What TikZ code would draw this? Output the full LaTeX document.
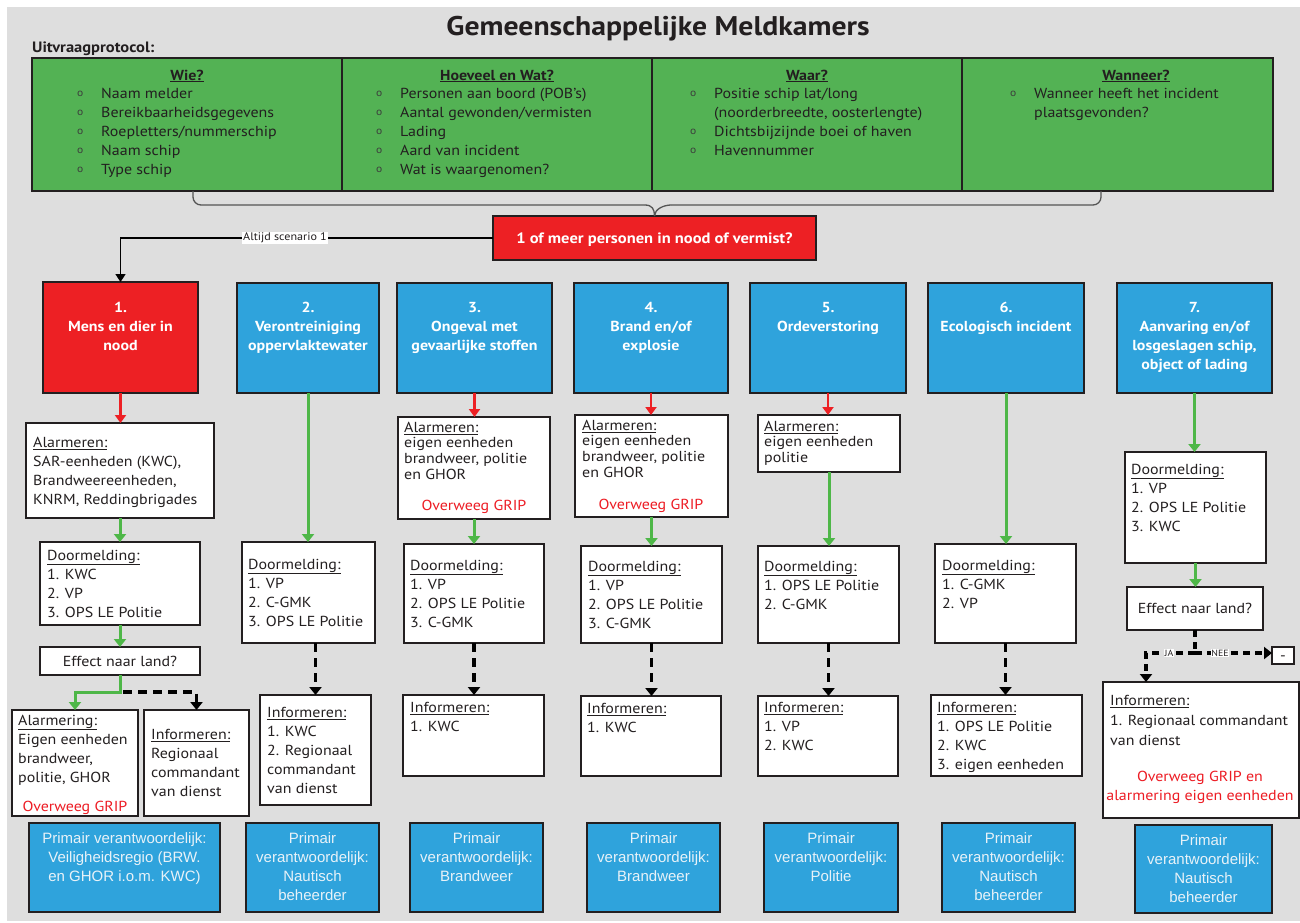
\documentclass[tikz,border=0pt]{standalone}
\usepackage{fontspec}
\setmainfont{PT Sans}[FakeStretch=1.1]
\newfontfamily\arialf{Liberation Sans}
\usetikzlibrary{arrows.meta,fit,calc}

\definecolor{bgc}{RGB}{222,222,222}
\definecolor{tblgreen}{RGB}{83,178,84}
\definecolor{hdrred}{RGB}{237,32,36}
\definecolor{hdrblue}{RGB}{47,163,220}
\definecolor{arrgreen}{RGB}{78,183,72}
\definecolor{ink}{RGB}{35,31,32}
\definecolor{bulc}{RGB}{60,60,60}
\definecolor{gripred}{RGB}{237,28,36}
\definecolor{palet}{RGB}{232,242,248}
\definecolor{bracec}{RGB}{85,85,85}

% box drawn over two corner points
\newcommand\boxat[6]{\node[#6, fit={(#2,#3)(#4,#5)}] (#1) {};}

% text blocks are placed by the baseline of their first line,
% whose height is fixed by a strut at its start
\tikzset{
  wbox/.style={draw=ink, fill=white, line width=1.2pt, inner sep=0pt, outer sep=0pt},
  redbox/.style={wbox, fill=hdrred},
  bluebox/.style={wbox, fill=hdrblue},
  tbl/.style={wbox, fill=tblgreen},
  firstline/.style={inner sep=0pt, yshift=#1},
  body/.style={anchor=north west, firstline=13.3pt, align=left, text=ink, font=\fontsize{14.5}{19}\selectfont},
  bodywide/.style={anchor=north west, firstline=14pt, align=left, text=ink, font=\fontsize{14.5}{20}\selectfont},
  smallbody/.style={anchor=north west, firstline=10.92pt, align=left, text=ink, font=\fontsize{14.5}{15.6}\selectfont},
  bul/.style={anchor=north west, firstline=14.6pt, align=left, text=bulc, font=\fontsize{10.5}{19}\selectfont},
  thead/.style={anchor=base, inner sep=0pt, text=ink, font=\bfseries\fontsize{14.5}{19}\selectfont},
  head/.style={anchor=north, firstline=13.3pt, align=center, text=white, font=\bfseries\fontsize{14.5}{19}\selectfont},
  qtext/.style={anchor=base, inner sep=0pt, text=white, font=\bfseries\fontsize{15}{19}\selectfont},
  ctext/.style={anchor=base, inner sep=0pt, text=ink, font=\fontsize{14.5}{19}\selectfont},
  prim/.style={anchor=north, firstline=13.3pt, align=center, text=palet, font=\arialf\fontsize{15}{19}\selectfont},
  grip/.style={anchor=north, firstline=13.3pt, align=center, text=gripred, font=\fontsize{14.5}{19}\selectfont},
  lab/.style={fill=white, inner sep=1pt, text=ink, font=\fontsize{11}{13}\selectfont},
  tinylab/.style={fill=white, inner sep=0.6pt, text=ink, font=\fontsize{9}{10}\selectfont},
  redarr/.style={draw=hdrred, line width=2.4pt, -{Triangle[width=11pt,length=8pt]}},
  grnarr/.style={draw=arrgreen, line width=3pt, -{Triangle[width=12pt,length=8pt]}},
  dashline/.style={draw=black, line width=3.2pt, dash pattern=on 9pt off 6pt},
  dasharr/.style={dashline, -{Triangle[width=12pt,length=8pt]}},
  blkarr/.style={draw=black, line width=1.6pt, -{Triangle[width=10pt,length=8pt]}},
  brace/.style={draw=bracec, line width=1.3pt},
}

\begin{document}
\begin{tikzpicture}[x=1pt,y=-1pt]
\useasboundingbox (0,0) rectangle (1300,922);
\fill[bgc] (7,7) rectangle (1300,921);

% title
\node[anchor=base, inner sep=0pt, text=ink, font=\bfseries\fontsize{27}{30}\selectfont] (title) at (658,35) {Gemeenschappelijke Meldkamers};
\node[anchor=base west, inner sep=0pt, text=ink, font=\bfseries\fontsize{15}{17}\selectfont] (uitv) at (32,52) {Uitvraagprotocol:};

% question protocol table
\boxat{tbl}{32}{58}{1273}{191}{tbl}
\draw[ink, line width=1.2pt] (342,58) -- (342,191);
\draw[ink, line width=1.2pt] (652,58) -- (652,191);
\draw[ink, line width=1.2pt] (962,58) -- (962,191);

\node[thead] (wie) at (187,80) {\underline{Wie?}};
\node[bul] (wieb) at (77,98) {\strut o\\o\\o\\o\\o};
\node[body] (wiel) at (101,98) {\strut Naam melder\\Bereikbaarheidsgegevens\\Roepletters/nummerschip\\Naam schip\\Type schip};

\node[thead] (hoe) at (497,80) {\underline{Hoeveel en Wat?}};
\node[bul] (hoeb) at (376,98) {\strut o\\o\\o\\o\\o};
\node[body] (hoel) at (400,98) {\strut Personen aan boord (POB’s)\\Aantal gewonden/vermisten\\Lading\\Aard van incident\\Wat is waargenomen?};

\node[thead] (waar) at (807,80) {\underline{Waar?}};
\node[bul] (waarb) at (690,98) {\strut o\\\mbox{}\\o\\o};
\node[body] (waarl) at (714,98) {\strut Positie schip lat/long\\(noorderbreedte, oosterlengte)\\Dichtsbijzijnde boei of haven\\Havennummer};

\node[thead] (wann) at (1136,80) {\underline{Wanneer?}};
\node[bul] (wannb) at (1010,98) {\strut o};
\node[body] (wannl) at (1034,98) {\strut Wanneer heeft het incident\\plaatsgevonden?};

% central question
\boxat{q}{493}{216}{816}{260}{redbox}
\node[qtext] (qt) at (654.5,243) {1 of meer personen in nood of vermist?};

% brace joining the table to the question
\coordinate (cusp) at (q.north);
\draw[brace, rounded corners=8pt] (193,191) |- (645,205);
\draw[brace] (645,205) .. controls (652,205) and ($(cusp)+(0,-7)$) .. (cusp);
\draw[brace] (cusp) .. controls ($(cusp)+(0,-7)$) and (664,205) .. (671,205);
\draw[brace, rounded corners=8pt] (671,205) -| (1101,191);

% scenario headers
\boxat{h1}{43}{282}{198}{393}{redbox}
\boxat{h2}{237}{283}{379}{393}{bluebox}
\boxat{h3}{397}{283}{552}{393}{bluebox}
\boxat{h4}{574}{283}{728}{393}{bluebox}
\boxat{h5}{750}{283}{906}{393}{bluebox}
\boxat{h6}{928}{283}{1084}{393}{bluebox}
\boxat{h7}{1117}{283}{1272}{393}{bluebox}
\node[head] (h1t) at (120.5,312) {\strut 1.\\Mens en dier in\\nood};
\node[head] (h2t) at (308,312) {\strut 2.\\Verontreiniging\\oppervlaktewater};
\node[head] (h3t) at (474.5,312) {\strut 3.\\Ongeval met\\gevaarlijke stoffen};
\node[head] (h4t) at (651,312) {\strut 4.\\Brand en/of\\explosie};
\node[head] (h5t) at (828,312) {\strut 5.\\Ordeverstoring};
\node[head] (h6t) at (1006,312) {\strut 6.\\Ecologisch incident};
\node[head] (h7t) at (1194.5,312) {\strut 7.\\Aanvaring en/of\\losgeslagen schip,\\object of lading};

\draw[blkarr] (q.west) -| (h1.north);
\node[lab] (altijd) at (285,238) {Altijd scenario 1};

% column 1
\boxat{a1}{26}{423}{214}{518}{wbox}
\node[body] (a1t) at (33,447) {\strut\underline{Alarmeren:}\\SAR-eenheden (KWC),\\Brandweereenheden,\\KNRM, Reddingbrigades};
\boxat{d1}{40}{542}{200}{625}{wbox}
\node[body] (d1t) at (47,560) {\strut\underline{Doormelding:}\\1. KWC\\2. VP\\3. OPS LE Politie};
\boxat{e1}{40}{647}{200}{675}{wbox}
\node[ctext] (e1t) at (120,666) {Effect naar land?};
\boxat{al1}{12}{710}{138}{816}{wbox}
\node[body] (al1t) at (18,725) {\strut\underline{Alarmering:}\\Eigen eenheden\\brandweer,\\politie, GHOR};
\node[grip] (al1g) at (75,811) {\strut Overweeg GRIP};
\boxat{i1}{144}{710}{249}{816}{wbox}
\node[body] (i1t) at (151,739) {\strut\underline{Informeren:}\\Regionaal\\commandant\\van dienst};

\draw[redarr] (h1.south) -- (h1.south |- a1.north);
\draw[grnarr] (a1.south) -- (a1.south |- d1.north);
\draw[grnarr] (d1.south) -- (d1.south |- e1.north);
\coordinate (j1) at ($(e1.south)+(0,17)$);
\draw[grnarr] (e1.south) -- (j1) -| (al1.north);
\draw[dasharr] ($(j1)+(3,0)$) -| (i1.north);

% column 2
\boxat{d2}{242}{542}{375}{643}{wbox}
\node[body] (d2t) at (248,569) {\strut\underline{Doormelding:}\\1. VP\\2. C-GMK\\3. OPS LE Politie};
\boxat{i2}{260}{695}{371}{805}{wbox}
\node[body] (i2t) at (267,717) {\strut\underline{Informeren:}\\1. KWC\\2. Regionaal\\commandant\\van dienst};
\draw[grnarr] (h2.south) -- (h2.south |- d2.north);
\draw[dasharr] (i2.north |- d2.south) -- (i2.north);

% column 3
\boxat{a3}{398}{417}{550}{519}{wbox}
\node[smallbody] (a3t) at (404,432) {\strut\underline{Alarmeren:}\\eigen eenheden\\brandweer, politie\\en GHOR};
\node[grip] (a3g) at (474,510) {\strut Overweeg GRIP};
\boxat{d3}{404}{544}{544}{643}{wbox}
\node[body] (d3t) at (410,570) {\strut\underline{Doormelding:}\\1. VP\\2. OPS LE Politie\\3. C-GMK};
\boxat{i3}{403}{695}{544}{776}{wbox}
\node[body] (i3t) at (410,712) {\strut\underline{Informeren:}\\1. KWC};
\draw[redarr] (h3.south) -- (h3.south |- a3.north);
\draw[grnarr] (a3.south) -- (a3.south |- d3.north);
\draw[dasharr] (d3.south) -- (d3.south |- i3.north);

% column 4
\boxat{a4}{575}{415}{728}{517}{wbox}
\node[smallbody] (a4t) at (582,430) {\strut\underline{Alarmeren:}\\eigen eenheden\\brandweer, politie\\en GHOR};
\node[grip] (a4g) at (651,509) {\strut Overweeg GRIP};
\boxat{d4}{581}{546}{722}{643}{wbox}
\node[body] (d4t) at (588,571) {\strut\underline{Doormelding:}\\1. VP\\2. OPS LE Politie\\3. C-GMK};
\boxat{i4}{581}{696}{721}{776}{wbox}
\node[body] (i4t) at (587,713) {\strut\underline{Informeren:}\\1. KWC};
\draw[redarr] (h4.south) -- (h4.south |- a4.north);
\draw[grnarr] (a4.south) -- (a4.south |- d4.north);
\draw[dasharr] (d4.south) -- (d4.south |- i4.north);

% column 5
\boxat{a5}{758}{415}{900}{472}{wbox}
\node[smallbody] (a5t) at (764,431) {\strut\underline{Alarmeren:}\\eigen eenheden\\politie};
\boxat{d5}{758}{546}{899}{643}{wbox}
\node[body] (d5t) at (764,571) {\strut\underline{Doormelding:}\\1. OPS LE Politie\\2. C-GMK};
\boxat{i5}{758}{696}{898}{776}{wbox}
\node[body] (i5t) at (764,712) {\strut\underline{Informeren:}\\1. VP\\2. KWC};
\draw[redarr] (h5.south) -- (h5.south |- a5.north);
\draw[grnarr] (a5.south) -- (a5.south |- d5.north);
\draw[dasharr] (d5.south) -- (d5.south |- i5.north);

% column 6
\boxat{d6}{935}{544}{1076}{643}{wbox}
\node[body] (d6t) at (942,570) {\strut\underline{Doormelding:}\\1. C-GMK\\2. VP};
\boxat{i6}{931}{695}{1082}{776}{wbox}
\node[body] (i6t) at (937,712) {\strut\underline{Informeren:}\\1. OPS LE Politie\\2. KWC\\3. eigen eenheden};
\draw[grnarr] (h6.south) -- (h6.south |- d6.north);
\draw[dasharr] (d6.south) -- (d6.south |- i6.north);

% column 7
\boxat{d7}{1125}{452}{1266}{563}{wbox}
\node[body] (d7t) at (1131,474) {\strut\underline{Doormelding:}\\1. VP\\2. OPS LE Politie\\3. KWC};
\boxat{e7}{1127}{587}{1263}{630}{wbox}
\node[ctext] (e7t) at (1195,613) {Effect naar land?};
\boxat{nee}{1272}{647}{1294}{664}{wbox}
\node[ctext] (neet) at (1283,660) {-};
\boxat{i7}{1103}{682}{1299}{818}{wbox}
\node[bodywide] (i7t) at (1110,705) {\strut\underline{Informeren:}\\1. Regionaal commandant\\van dienst};
\node[grip] (i7g) at (1200,781) {\strut Overweeg GRIP en\\alarmering eigen eenheden};
\draw[grnarr] (h7.south) -- (h7.south |- d7.north);
\draw[grnarr] (d7.south) -- (d7.south |- e7.north);
\coordinate (j7) at ($(e7.south)+(0,23)$);
\coordinate (ja) at ($(i7.north west)+(43,0)$);
\draw[dashline, dash pattern=on 7pt off 5pt] (e7.south) -- (j7);
\draw[dasharr, dash pattern=on 7pt off 5pt] (j7) -| (ja);
\draw[dasharr, dash pattern=on 7pt off 5pt] (j7) -- (j7 -| nee.west);
\node[tinylab] (jal) at (1169,653) {JA};
\node[tinylab] (neel) at (1220,653) {NEE};

% responsibility boxes
\boxat{p1}{29}{823}{220}{912}{bluebox}
\boxat{p2}{246}{823}{379}{912}{bluebox}
\boxat{p3}{410}{823}{543}{912}{bluebox}
\boxat{p4}{587}{823}{720}{912}{bluebox}
\boxat{p5}{764}{823}{898}{912}{bluebox}
\boxat{p6}{942}{823}{1075}{912}{bluebox}
\boxat{p7}{1135}{825}{1272}{913}{bluebox}
\node[prim] (p1t) at (124.5,843) {\strut Primair verantwoordelijk:\\Veiligheidsregio (BRW.\\en GHOR i.o.m. KWC)};
\node[prim] (p2t) at (312.5,843) {\strut Primair\\verantwoordelijk:\\Nautisch\\beheerder};
\node[prim] (p3t) at (476.5,843) {\strut Primair\\verantwoordelijk:\\Brandweer};
\node[prim] (p4t) at (653.5,843) {\strut Primair\\verantwoordelijk:\\Brandweer};
\node[prim] (p5t) at (831,843) {\strut Primair\\verantwoordelijk:\\Politie};
\node[prim] (p6t) at (1008.5,843) {\strut Primair\\verantwoordelijk:\\Nautisch\\beheerder};
\node[prim] (p7t) at (1203.5,845) {\strut Primair\\verantwoordelijk:\\Nautisch\\beheerder};
\end{tikzpicture}
\end{document}
